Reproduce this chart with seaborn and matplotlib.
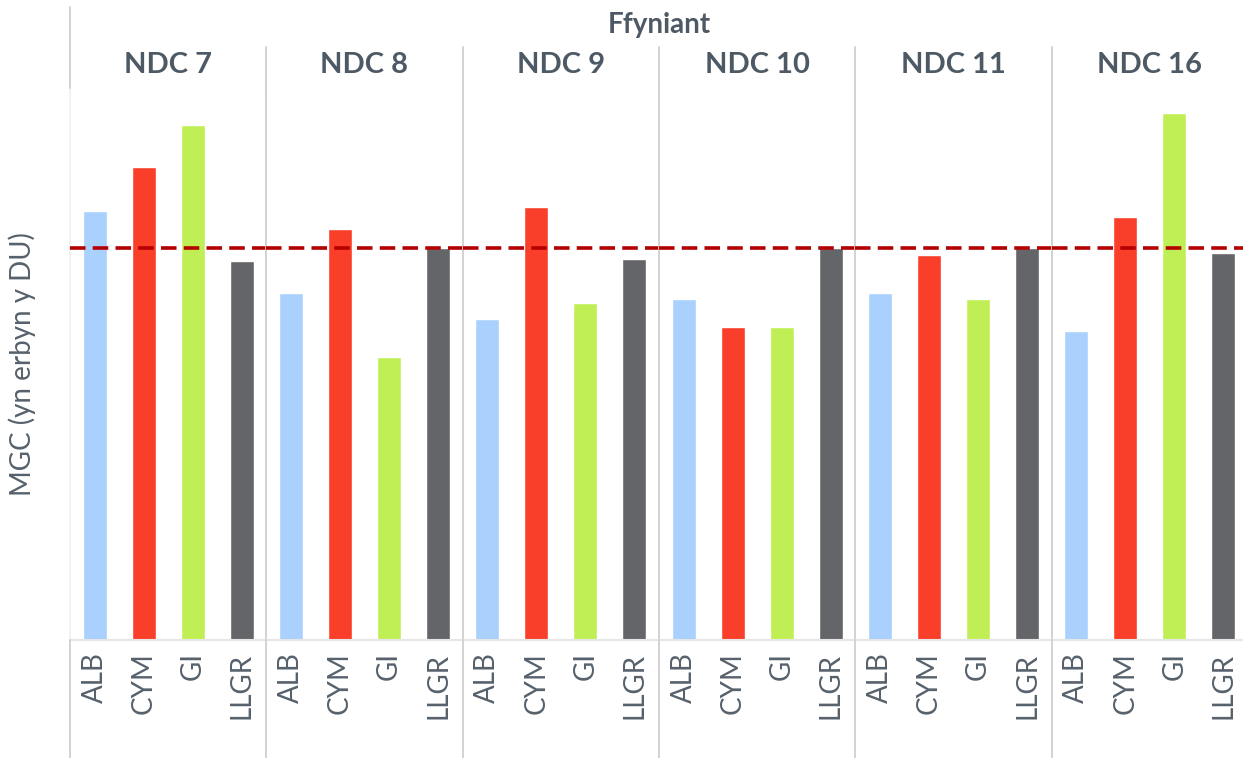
import numpy as np
import pandas as pd
import matplotlib
matplotlib.use("Agg")
import matplotlib.pyplot as plt
from matplotlib.lines import Line2D
import seaborn as sns

# Productivity (GVA relative to the UK) by NDC level and nation
groups = ["NDC 7", "NDC 8", "NDC 9", "NDC 10", "NDC 11", "NDC 16"]
nations = ["ALB", "CYM", "GI", "LLGR"]
alb = [109.4, 88.5, 81.9, 87.0, 88.5, 78.8]
cym = [120.7, 104.8, 110.5, 79.8, 98.2, 107.9]
gi = [131.4, 72.2, 86.0, 79.8, 87.0, 134.4]
llgr = [96.7, 100.0, 97.2, 100.0, 100.0, 98.7]
uk_level = 100.0

colours = ["#aad0fe", "#f93f2a", "#c0ef55", "#636569"]
text_col = "#56616c"
head_col = "#4d5965"
rule_col = "#cfcfcf"

sns.set_theme(style="white")
plt.rcParams["font.family"] = ["Lato", "DejaVu Sans"]

rows = []
for i, g in enumerate(groups):
    for n, v in zip(nations, [alb[i], cym[i], gi[i], llgr[i]]):
        rows.append({"group": g, "nation": n, "value": v})
df = pd.DataFrame(rows)

W, H = 1243, 758
fig, axes = plt.subplots(1, len(groups), figsize=(W / 100, H / 100), dpi=100, sharey=True)
fig.subplots_adjust(left=70 / W, right=1248 / W, bottom=1 - 640 / H, top=1 - 88 / H, wspace=0)

for k, (ax, g) in enumerate(zip(axes, groups)):
    sub = df[df["group"] == g]
    sns.barplot(data=sub, x="nation", y="value", hue="nation", order=nations,
                hue_order=nations, palette=colours, saturation=1, width=0.49,
                legend=False, ax=ax)
    ax.axhline(uk_level, color="#b40000", lw=2.6, ls=(0, (4.3, 2.0)), zorder=5)
    ax.set_ylim(0, 140.8)
    ax.set_xlim(-0.5, 3.5)
    ax.set_yticks([])
    ax.set_xlabel("")
    ax.set_ylabel("")
    ax.tick_params(axis="x", length=0, pad=9, labelsize=20, labelcolor=text_col)
    for lab in ax.get_xticklabels():
        lab.set_rotation(90)
        lab.set_va("top")
    for s in ("top", "right"):
        ax.spines[s].set_visible(False)
    ax.spines["bottom"].set_color("#e6e6e6")
    ax.spines["bottom"].set_linewidth(1.5)
    ax.spines["left"].set_color("#f1f1f1" if k == 0 else rule_col)
    ax.spines["left"].set_linewidth(1.3)

    pos = ax.get_position()
    xc = (pos.x0 + pos.x1) / 2
    fig.text(xc, 1 - 65 / H, g, ha="center", va="center", fontsize=21,
             fontweight="bold", color=head_col)

    # panel separators through the header and tick-label rows
    if k == 0:
        y_top = 1 - 7 / H
        fig.add_artist(Line2D([pos.x0, pos.x0], [y_top, pos.y1], color=rule_col,
                              lw=1.3, transform=fig.transFigure))
    else:
        fig.add_artist(Line2D([pos.x0, pos.x0], [1 - 47 / H, pos.y1], color=rule_col,
                              lw=1.3, transform=fig.transFigure))
    fig.add_artist(Line2D([pos.x0, pos.x0], [0, pos.y0], color=rule_col,
                          lw=1.3, transform=fig.transFigure))

p0 = axes[0].get_position()
p1 = axes[-1].get_position()
fig.text((p0.x0 + p1.x1) / 2, 1 - 25 / H, "Ffyniant", ha="center", va="center",
         fontsize=20, fontweight="bold", color=head_col)
fig.text(22 / W, (p0.y0 + p0.y1) / 2, "MGC (yn erbyn y DU)", rotation=90,
         ha="center", va="center", fontsize=20, color=text_col)

fig.savefig("out.png", dpi=100)
